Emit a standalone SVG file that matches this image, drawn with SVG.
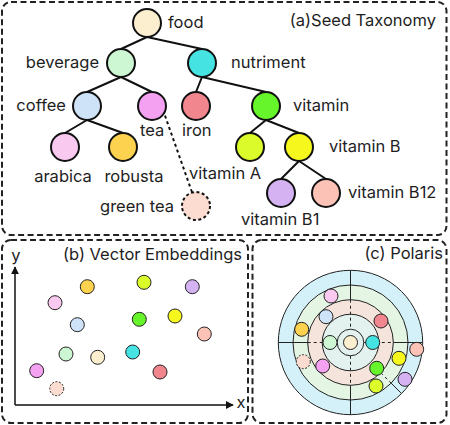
<svg xmlns="http://www.w3.org/2000/svg" width="450" height="425" viewBox="0 0 450 425">
<defs>
<style>
text{font-family:Inter,"Liberation Sans",sans-serif;font-size:16.5px;fill:#1e1e1e}
.panel{fill:none;stroke:#222;stroke-width:2;stroke-dasharray:6 3.5}
.n{stroke:#111;stroke-width:2}
.e{stroke:#111;stroke-width:2;fill:none}
.d{stroke:#222;stroke-width:1}
.ring{stroke:#222;stroke-width:1}
.pl{stroke:#222;stroke-width:1;fill:none}
.pd{stroke:#222;stroke-width:1;fill:none;stroke-dasharray:3 3}
</style>
<marker id="arr" viewBox="0 0 10 10" refX="9" refY="5" markerWidth="8" markerHeight="8" markerUnits="userSpaceOnUse" orient="auto">
<path d="M0,0 L10,5 L0,10 z" fill="#111"/>
</marker>
</defs>
<rect fill="#fff" width="450" height="425"/>

<!-- panels -->
<rect class="panel" x="2" y="2" width="444.5" height="233" rx="9"/>
<rect class="panel" x="2" y="240" width="246" height="183" rx="9"/>
<rect class="panel" x="252.5" y="240" width="194" height="183" rx="9"/>
<text x="436" y="26" text-anchor="end">(a)Seed Taxonomy</text>
<text x="242" y="260" text-anchor="end">(b) Vector Embeddings</text>
<text x="443" y="259" text-anchor="end">(c) Polaris</text>

<!-- tree connectors -->
<g id="connectors">
<path class="e" d="M147,37 L121,49 M147,37 L202,49 M121,77 L87,92 M121,77 L152,92 M202,77 L196,92 M202,77 L266,92 M87,120 L65,133 M87,120 L123,133 M266,120 L250,133 M266,120 L299,133 M299,161 L281,179 M299,161 L326,179"/>
<path class="e" d="M163,110 L193,195" stroke-dasharray="3 3"/>
</g>

<!-- tree nodes -->
<g id="food"><circle class="n" cx="147" cy="23" r="14" fill="#fcefcf"/><text x="168" y="28">food</text></g>
<g id="beverage"><circle class="n" cx="121" cy="63" r="14" fill="#cdf6d2"/><text x="99" y="68" text-anchor="end">beverage</text></g>
<g id="nutriment"><circle class="n" cx="202" cy="63" r="14" fill="#46e3e3"/><text x="231" y="68">nutriment</text></g>
<g id="coffee"><circle class="n" cx="87" cy="106" r="14" fill="#cfe3f8"/><text x="66" y="111" text-anchor="end">coffee</text></g>
<g id="tea"><circle class="n" cx="152" cy="106" r="14" fill="#f3a1f0"/><text x="140" y="136">tea</text></g>
<g id="iron"><circle class="n" cx="196" cy="106" r="14" fill="#f2868e"/><text x="182" y="136">iron</text></g>
<g id="vitamin"><circle class="n" cx="266" cy="106" r="14" fill="#66f52b"/><text x="293" y="111">vitamin</text></g>
<g id="arabica"><circle class="n" cx="65" cy="147" r="14" fill="#f9c9ef"/><text x="63" y="182" text-anchor="middle">arabica</text></g>
<g id="robusta"><circle class="n" cx="123" cy="147" r="14" fill="#fcd24e"/><text x="134" y="182" text-anchor="middle">robusta</text></g>
<g id="vitaminA"><circle class="n" cx="250" cy="147" r="14" fill="#dbfb2b"/><text x="189" y="179">vitamin A</text></g>
<g id="vitaminB"><circle class="n" cx="299" cy="147" r="14" fill="#f6f71c"/><text x="329" y="152">vitamin B</text></g>
<g id="vitaminB1"><circle class="n" cx="281" cy="193" r="14" fill="#d5b2f2"/><text x="241" y="225">vitamin B1</text></g>
<g id="vitaminB12"><circle class="n" cx="326" cy="193" r="14" fill="#fcc2b6"/><text x="348" y="198">vitamin B12</text></g>
<g id="greentea"><circle class="n" cx="196" cy="206" r="14" fill="#fcdcd0" stroke-dasharray="3 2.5"/><text x="174" y="212" text-anchor="end">green tea</text></g>

<!-- (b) vector embeddings -->
<g id="axes">
<line x1="15" y1="405" x2="15" y2="267" stroke="#111" stroke-width="1.5" marker-end="url(#arr)"/>
<line x1="15" y1="405" x2="233" y2="405" stroke="#111" stroke-width="1.5" marker-end="url(#arr)"/>
<text x="16" y="261" text-anchor="middle">y</text>
<text x="241" y="408" text-anchor="middle">x</text>
</g>
<g id="embeddings">
<circle class="d" cx="55" cy="302.7" r="7" fill="#f9c9ef"/>
<circle class="d" cx="87.3" cy="286.7" r="7" fill="#fcd24e"/>
<circle class="d" cx="144" cy="282.3" r="7" fill="#dbfb2b"/>
<circle class="d" cx="192.3" cy="286.7" r="7" fill="#d5b2f2"/>
<circle class="d" cx="77.3" cy="324.7" r="7" fill="#cfe3f8"/>
<circle class="d" cx="139.3" cy="319.3" r="7" fill="#66f52b"/>
<circle class="d" cx="175" cy="316" r="7" fill="#f6f71c"/>
<circle class="d" cx="204.3" cy="334" r="7" fill="#fcc2b6"/>
<circle class="d" cx="66" cy="354" r="7" fill="#cdf6d2"/>
<circle class="d" cx="97.7" cy="357.3" r="7" fill="#fcefcf"/>
<circle class="d" cx="132.7" cy="352" r="7" fill="#46e3e3"/>
<circle class="d" cx="36.7" cy="370.7" r="7" fill="#f3a1f0"/>
<circle class="d" cx="160" cy="372" r="7" fill="#f2868e"/>
<circle class="d" cx="56.7" cy="388.7" r="7" fill="#fcdcd0" stroke-dasharray="2 1.5"/>
</g>

<!-- (c) polaris -->
<g id="polaris">
<circle class="ring" cx="350.5" cy="342.5" r="72.2" fill="#d4f1fa"/>
<circle class="ring" cx="350.5" cy="342.5" r="57.5" fill="#e5f5e3"/>
<circle class="ring" cx="350.5" cy="342.5" r="42.8" fill="#f5e4dc"/>
<circle class="ring" cx="350.5" cy="342.5" r="28.3" fill="#e3f2ef"/>
<circle class="ring" cx="350.5" cy="342.5" r="13.3" fill="#e3f2ef"/>
<path class="pl" d="M278.3,342.5 H307.7 M393.3,342.5 H422.7 M350.5,270.3 V299.7 M350.5,385.3 V414.7 M391.2,383.2 L401.5,393.5"/>
<path class="pd" d="M307.7,342.5 H337.2 M363.8,342.5 H393.3 M350.5,299.7 V329.2 M350.5,355.8 V385.3 M380.8,372.8 L391.2,383.2"/>
<circle class="d" cx="331" cy="296" r="7" fill="#f9c9ef"/>
<circle class="d" cx="326" cy="316.7" r="7" fill="#cfe3f8"/>
<circle class="d" cx="301.7" cy="329.3" r="7" fill="#fcd24e"/>
<circle class="d" cx="381" cy="321" r="7" fill="#f2868e"/>
<circle class="d" cx="330" cy="342.5" r="7" fill="#cdf6d2"/>
<circle class="d" cx="350.5" cy="342.5" r="7" fill="#fcefcf"/>
<circle class="d" cx="372.7" cy="342.5" r="7" fill="#46e3e3"/>
<circle class="d" cx="303.3" cy="361.7" r="7" fill="#fcdcd0" stroke-dasharray="2 1.5"/>
<circle class="d" cx="322.7" cy="366" r="7" fill="#f3a1f0"/>
<circle class="d" cx="416.7" cy="349.3" r="7" fill="#fcc2b6"/>
<circle class="d" cx="399" cy="358.3" r="7" fill="#f6f71c"/>
<circle class="d" cx="376.7" cy="368.3" r="7" fill="#66f52b"/>
<circle class="d" cx="405" cy="379.3" r="7" fill="#d5b2f2"/>
<circle class="d" cx="376" cy="386" r="7" fill="#dbfb2b"/>
</g>
</svg>
